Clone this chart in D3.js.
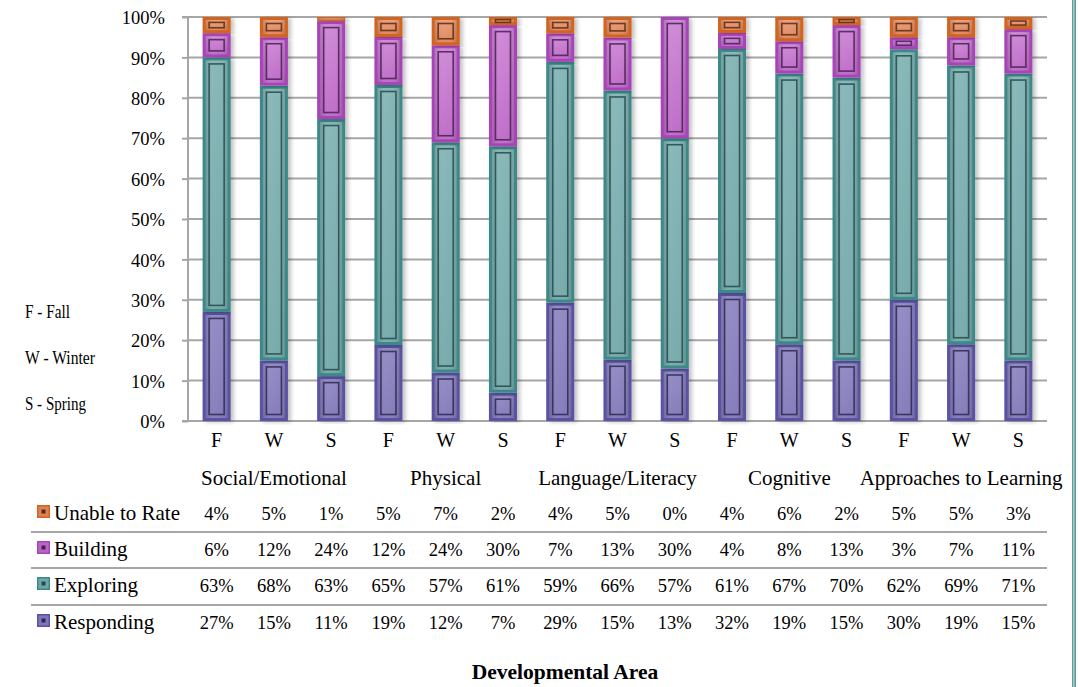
<!DOCTYPE html>
<html><head><meta charset="utf-8">
<script src="https://cdn.jsdelivr.net/npm/d3@7"></script>
<style>
html,body{margin:0;padding:0;background:#fff;}
svg{display:block;font-family:"Liberation Serif","Times New Roman",serif;}
</style></head>
<body>
<svg id="chart" width="1078" height="687"></svg>
<script>
const areas = ["Social/Emotional","Physical","Language/Literacy","Cognitive","Approaches to Learning"];
const seasons = ["F","W","S"];
const seriesNames = ["Responding","Exploring","Building","Unable to Rate"];
const responding = [27,15,11,19,12,7,29,15,13,32,19,15,30,19,15];
const exploring  = [63,68,63,65,57,61,59,66,57,61,67,70,62,69,71];
const building   = [6,12,24,12,24,30,7,13,30,4,8,13,3,7,11];
const unable     = [4,5,1,5,7,2,4,5,0,4,6,2,5,5,3];
const yTicks = [0,0.1,0.2,0.3,0.4,0.5,0.6,0.7,0.8,0.9,1.0];
const seasonKey = ["F - Fall","W - Winter","S - Spring"];

(function(){
const colors = {
  "Responding":    {border:"#5a52a4", fill:"#7f76b7", light:"#8d85c1", line:"#2e2850"},
  "Exploring":     {border:"#3d8987", fill:"#71a7a8", light:"#80b3b4", line:"#27494a"},
  "Building":      {border:"#a745b8", fill:"#bb66c5", light:"#cc84d4", line:"#4a1f52"},
  "Unable to Rate":{border:"#d4631f", fill:"#dd8256", light:"#e89b76", line:"#5a2a10"}
};

const svg = d3.select("#chart");
const W = 1078, H = 687;
const pLeft = 188, pRight = 1047, pTop = 17, pBottom = 421;

const rows = responding.map((d,i)=>({
  idx:i, season:seasons[i%3], area:areas[Math.floor(i/3)],
  "Responding":d, "Exploring":exploring[i], "Building":building[i], "Unable to Rate":unable[i]
}));

const x = d3.scaleBand().domain(rows.map(r=>r.idx)).range([pLeft,pRight]).paddingInner(0.51).paddingOuter(0.255);
const y = d3.scaleLinear().domain([0,1]).range([pBottom,pTop]);

const defs = svg.append("defs");
seriesNames.forEach((s,k)=>{
  const c = colors[s];
  const g = defs.append("linearGradient").attr("id","g"+k).attr("x1",0).attr("x2",0).attr("y1",0).attr("y2",1);
  g.append("stop").attr("offset","0%").attr("stop-color",c.light);
  g.append("stop").attr("offset","100%").attr("stop-color",c.fill);
  const h = defs.append("linearGradient").attr("id","h"+k).attr("x1",0).attr("x2",1).attr("y1",0).attr("y2",0);
  h.append("stop").attr("offset","0%").attr("stop-color","#000").attr("stop-opacity",0.12);
  h.append("stop").attr("offset","30%").attr("stop-color","#fff").attr("stop-opacity",0.08);
  h.append("stop").attr("offset","70%").attr("stop-color","#fff").attr("stop-opacity",0.05);
  h.append("stop").attr("offset","100%").attr("stop-color","#000").attr("stop-opacity",0.12);
});
const sh = defs.append("filter").attr("id","shadow").attr("x","-20%").attr("y","-5%").attr("width","150%").attr("height","110%");
sh.append("feGaussianBlur").attr("in","SourceAlpha").attr("stdDeviation",2);
sh.append("feOffset").attr("dx",3).attr("dy",1).attr("result","ob");
sh.append("feComponentTransfer").append("feFuncA").attr("type","linear").attr("slope",0.25);
const mg = sh.append("feMerge"); mg.append("feMergeNode"); mg.append("feMergeNode").attr("in","SourceGraphic");

svg.append("g").selectAll("line").data(yTicks.filter(t=>t>0)).join("line")
  .attr("x1",pLeft).attr("x2",pRight).attr("y1",d=>y(d)).attr("y2",d=>y(d))
  .attr("stroke","#a6a6a6").attr("stroke-width",2);

const yAxis = d3.axisLeft(y).tickValues(yTicks).tickFormat(d3.format(".0%")).tickSize(6).tickPadding(18);
const ya = svg.append("g").attr("transform",`translate(${pLeft},0)`).call(yAxis);
ya.select(".domain").attr("stroke","#a6a6a6").attr("stroke-width",2).attr("d",`M-6,${pTop}H0V${pBottom}H-6`);
ya.selectAll(".tick line").attr("stroke","#a6a6a6").attr("stroke-width",2);
ya.selectAll(".tick text").attr("font-family","Liberation Serif").attr("font-size",18.5).attr("fill","#000").attr("x",-23).attr("dy","0.36em");

svg.append("line").attr("x1",pLeft-6).attr("x2",pRight).attr("y1",pBottom).attr("y2",pBottom).attr("stroke","#a6a6a6").attr("stroke-width",2);

const stack = d3.stack().keys(seriesNames).offset(d3.stackOffsetExpand);
const stacked = stack(rows);

const barsG = svg.append("g");
stacked.forEach((layer,k)=>{
  const s = seriesNames[k], c = colors[s];
  const g = barsG.append("g");
  layer.forEach(d=>{
    const x0 = x(d.data.idx), bw = x.bandwidth();
    const y0 = y(d[1]), y1 = y(d[0]);
    const h = y1 - y0;
    if (h <= 0.2) return;
    const seg = g.append("g");
    seg.append("rect").attr("x",x0).attr("y",y0).attr("width",bw).attr("height",h).attr("fill",c.border).attr("filter","url(#shadow)");
    const ins = Math.min(3, h/3);
    seg.append("rect").attr("x",x0+ins).attr("y",y0+ins).attr("width",bw-2*ins).attr("height",Math.max(0,h-2*ins)).attr("fill","url(#g"+k+")");
    seg.append("rect").attr("x",x0+ins).attr("y",y0+ins).attr("width",bw-2*ins).attr("height",Math.max(0,h-2*ins)).attr("fill","url(#h"+k+")");
    if (h > 8) {
      const ins2 = Math.min(6.5, h/3);
      seg.append("rect").attr("x",x0+6.5).attr("y",y0+ins2).attr("width",bw-13).attr("height",Math.max(0.5,h-2*ins2))
        .attr("fill","none").attr("stroke",c.line).attr("stroke-width",1.6).attr("stroke-opacity",0.85);
    }
  });
});

svg.append("g").selectAll("text").data(rows).join("text")
  .attr("x",d=>x(d.idx)+x.bandwidth()/2).attr("y",447)
  .attr("text-anchor","middle").attr("font-size",20).text(d=>d.season);

svg.append("g").selectAll("text").data(areas).join("text")
  .attr("x",(d,i)=>(x(i*3)+x(i*3+2)+x.bandwidth())/2).attr("y",485)
  .attr("text-anchor","middle").attr("font-size",21).text(d=>d);

const tableRows = [
  {name:"Unable to Rate", vals:unable},
  {name:"Building", vals:building},
  {name:"Exploring", vals:exploring},
  {name:"Responding", vals:responding}
];
const rowY = [520, 556, 592, 629];
const sepY = [532, 568, 605];
svg.append("g").selectAll("line").data(sepY).join("line")
  .attr("x1",31).attr("x2",pRight).attr("y1",d=>d).attr("y2",d=>d)
  .attr("stroke","#a6a6a6").attr("stroke-width",2);

tableRows.forEach((r,ri)=>{
  const c = colors[r.name];
  const g = svg.append("g");
  const iy = rowY[ri]-15;
  g.append("rect").attr("x",37).attr("y",iy).attr("width",13).attr("height",13).attr("fill",c.border);
  g.append("rect").attr("x",38.5).attr("y",iy+1.5).attr("width",10).attr("height",10).attr("fill",c.fill);
  g.append("rect").attr("x",41.5).attr("y",iy+4.5).attr("width",4).attr("height",4).attr("fill",c.line);
  g.append("text").attr("x",54).attr("y",rowY[ri]).attr("font-size",21).text(r.name);
  g.selectAll("text.v").data(r.vals).join("text").attr("class","v")
    .attr("x",(d,i)=>x(i)+x.bandwidth()/2).attr("y",rowY[ri])
    .attr("text-anchor","middle").attr("font-size",18.5).text(d=>d+"%");
});

svg.append("g").selectAll("text").data(seasonKey).join("text")
  .attr("x",25).attr("y",(d,i)=>318+i*46)
  .attr("font-size",18).attr("textLength",(d,i)=>[45,70,61][i]).attr("lengthAdjust","spacingAndGlyphs")
  .text(d=>d);

svg.append("text").attr("x",565).attr("y",679).attr("text-anchor","middle")
  .attr("font-size",21.5).attr("font-weight","bold").text("Developmental Area");

svg.append("rect").attr("x",1072).attr("y",0).attr("width",4).attr("height",H).attr("fill","#5f9e9c");
svg.append("rect").attr("x",1073).attr("y",0).attr("width",1.5).attr("height",H).attr("fill","#a8cccb");
})();
</script>
</body></html>
